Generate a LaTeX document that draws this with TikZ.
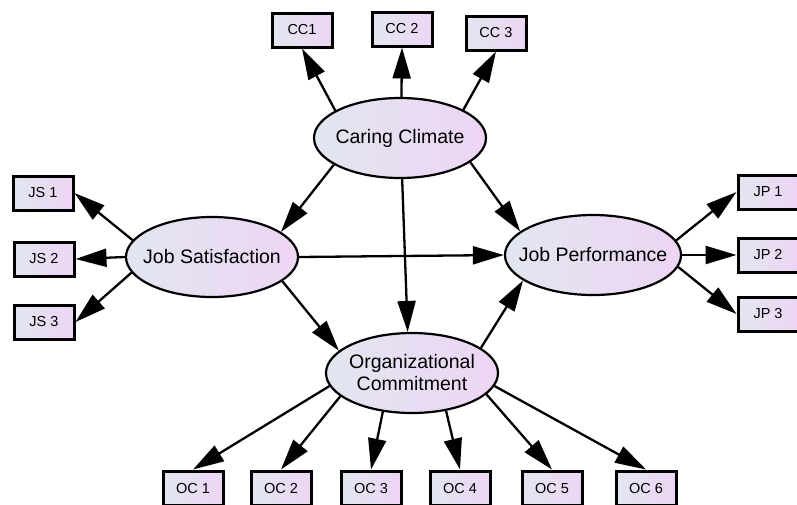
\documentclass[tikz,border=0pt]{standalone}
\usepackage{fontspec}
\setmainfont{Liberation Sans}
\usetikzlibrary{arrows.meta, shapes.geometric}
\definecolor{shadeleft}{RGB}{226,230,240}
\definecolor{shaderight}{RGB}{237,213,244}

\begin{document}
\begin{tikzpicture}[x = 1pt, y = -1pt,
    path/.style = {line width = 2.3pt, -{Triangle[length=31pt,width=18pt]}},
    latent/.style = {ellipse, draw, line width = 2.2pt, left color = shadeleft, right color = shaderight,
      minimum width = 172pt, minimum height = 80pt, inner xsep = -12pt, inner ysep = 0pt, align = center,
      font = \fontsize{19.5}{22}\selectfont},
    indicator/.style = {rectangle, draw, line width = 3pt, left color = shadeleft, right color = shaderight,
      minimum width = 60pt, minimum height = 34pt, inner sep = 0pt,
      font = \fontsize{14.5}{16}\selectfont}]
  \useasboundingbox (0,0) rectangle (797,504);
  % latent variables
  \node[latent] (cc) at (400,138) {Caring Climate};
  \node[latent] (js) at (212,257) {Job Satisfaction};
  \node[latent] (jp) at (593,255) {Job Performance};
  \node[latent] (oc) at (412,373) {Organizational\\Commitment};
  % indicators
  \node[indicator] (cc1) at (302,30) {CC1};
  \node[indicator] (cc2) at (402,29) {CC 2};
  \node[indicator] (cc3) at (496,33) {CC 3};
  \node[indicator] (js1) at (43,193) {JS 1};
  \node[indicator] (js2) at (44,259) {JS 2};
  \node[indicator] (js3) at (44,322) {JS 3};
  \node[indicator] (jp1) at (768,192) {JP 1};
  \node[indicator] (jp2) at (768,255) {JP 2};
  \node[indicator] (jp3) at (768,314) {JP 3};
  \node[indicator] (oc1) at (193,488) {OC 1};
  \node[indicator] (oc2) at (281,488) {OC 2};
  \node[indicator] (oc3) at (371,488) {OC 3};
  \node[indicator] (oc4) at (460,488) {OC 4};
  \node[indicator] (oc5) at (552,488) {OC 5};
  \node[indicator] (oc6) at (646,488) {OC 6};
  % structural paths
  \path[path] (cc.202) edge (js.20)
              (cc.341) edge (jp.162)
              (cc.273) edge (oc.96)
              (js.east) edge (jp.west)
              (js.341) edge (oc.163)
              (oc.20) edge (jp.200);
  % measurement paths
  \path[path] (cc.157) edge (cc1.south)
              (cc.88) edge (cc2.south)
              (cc.24) edge (cc3.south)
              (js.168) edge (js1.east)
              (js.west) edge (js2.east)
              (js.191) edge (js3.east)
              (jp.10) edge (jp1.west)
              (jp.east) edge (jp2.west)
              (jp.352) edge (jp3.west)
              (oc.189) edge (oc1.north)
              (oc.198) edge (oc2.north)
              (oc.233) edge (oc3.north)
              (oc.312) edge (oc4.north)
              (oc.344) edge (oc5.north)
              (oc.351) edge (oc6.north);
\end{tikzpicture}
\end{document}
